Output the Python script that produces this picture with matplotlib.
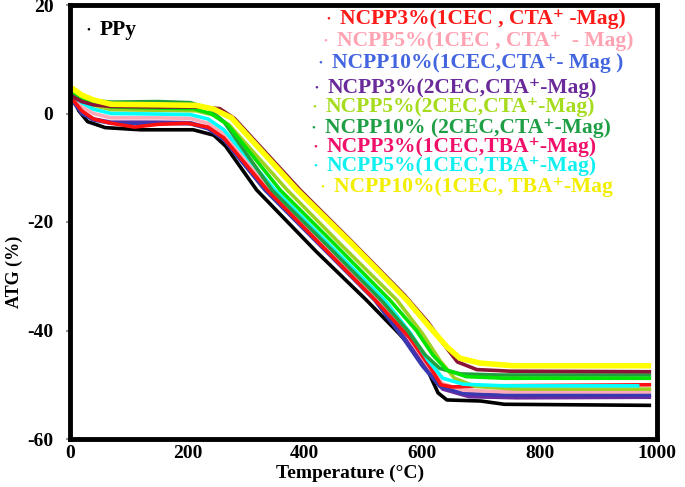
import matplotlib
matplotlib.use("Agg")
import matplotlib.pyplot as plt

plt.rcParams["axes.unicode_minus"] = False

# temperatures (°C) and mass change (%)
t_ppy = [3, 15, 30, 60, 120, 210, 245, 265, 318, 420, 505, 560, 601, 627, 642, 700, 740, 990]
y_ppy = [3.4, 0.5, -1.5, -2.6, -3.0, -3.0, -4.0, -6.0, -14.1, -25.5, -34.4, -40.5, -45.4, -51.5, -52.8, -53.0, -53.6, -53.8]

t_3cta = [3, 20, 40, 70, 110, 150, 200, 235, 262, 336, 430, 520, 580, 615, 632, 650, 720, 990]
y_3cta = [2.8, 0.5, -1.0, -1.8, -2.5, -2.0, -1.8, -2.5, -4.5, -14.1, -24.5, -34.4, -41.5, -47.0, -50.0, -50.4, -50.2, -50.0]

t_5cta = [3, 20, 40, 70, 150, 205, 235, 262, 340, 435, 527, 575, 610, 635, 670, 740, 990]
y_5cta = [3.0, 1.2, 0.0, -0.8, -0.8, -0.9, -1.8, -3.8, -14.1, -24.3, -34.4, -41.0, -46.5, -49.8, -51.0, -51.3, -51.3]

t_10cta = [3, 20, 40, 70, 150, 205, 235, 262, 332, 425, 519, 565, 600, 630, 670, 740, 990]
y_10cta = [2.5, 0.0, -1.2, -1.8, -1.8, -1.9, -2.8, -4.8, -14.1, -24.2, -34.4, -41.0, -46.5, -50.3, -51.6, -51.9, -51.9]

t_3cta2 = [3, 20, 40, 70, 150, 205, 235, 262, 334, 428, 521, 570, 605, 635, 680, 760, 990]
y_3cta2 = [2.6, 0.3, -1.0, -1.6, -1.6, -1.7, -2.6, -4.6, -14.1, -24.2, -34.4, -41.2, -46.8, -50.8, -52.2, -52.4, -52.3]

t_5cta2 = [3, 20, 40, 70, 150, 215, 245, 272, 370, 460, 557, 600, 630, 655, 690, 760, 990]
y_5cta2 = [3.8, 2.5, 1.5, 0.7, 0.6, 0.5, -0.3, -2.2, -14.1, -24.0, -34.4, -40.5, -45.5, -48.8, -50.3, -50.8, -50.8]

t_10cta2 = [3, 20, 40, 70, 150, 205, 235, 262, 344, 440, 530, 575, 605, 630, 665, 730, 990]
y_10cta2 = [3.6, 2.9, 2.4, 2.1, 2.2, 2.0, 1.0, -1.5, -14.1, -24.5, -34.4, -40.0, -44.5, -47.0, -48.0, -48.2, -48.2]

t_extra = [3, 20, 40, 70, 150, 210, 240, 268, 358, 450, 545, 590, 618, 642, 675, 740, 990]
y_extra = [4.2, 3.0, 2.0, 1.2, 1.0, 0.9, 0.0, -2.0, -14.1, -24.0, -34.4, -40.0, -44.5, -47.3, -48.5, -48.8, -48.8]

t_3tba = [3, 20, 40, 70, 150, 220, 255, 280, 392, 480, 570, 610, 640, 660, 693, 750, 990]
y_3tba = [3.2, 2.2, 1.6, 1.3, 1.2, 1.2, 0.9, -0.9, -14.1, -23.6, -33.5, -38.5, -43.0, -45.8, -47.2, -47.5, -47.6]

t_5tba = [3, 20, 40, 70, 150, 205, 235, 262, 349, 440, 536, 580, 610, 635, 670, 740, 970]
y_5tba = [3.5, 2.0, 0.8, 0.0, -0.1, -0.2, -1.0, -3.0, -14.1, -24.0, -34.4, -40.5, -45.5, -48.8, -49.9, -50.2, -50.2]

t_10tba = [3, 20, 40, 70, 150, 215, 245, 275, 387, 480, 574, 613, 642, 664, 698, 755, 990]
y_10tba = [4.7, 3.4, 2.5, 1.7, 1.6, 1.5, 0.8, -0.8, -14.1, -24.0, -34.4, -39.4, -43.0, -45.1, -46.0, -46.5, -46.5]

labels = ["PPy",
          "NCPP3%(1CEC , CTA⁺ -Mag)",
          "NCPP5%(1CEC , CTA⁺  - Mag)",
          "NCPP10%(1CEC,CTA⁺- Mag )",
          "NCPP3%(2CEC,CTA⁺-Mag)",
          "NCPP5%(2CEC,CTA⁺-Mag)",
          "NCPP10% (2CEC,CTA⁺-Mag)",
          "NCPP3%(1CEC,TBA⁺-Mag)",
          "NCPP5%(1CEC,TBA⁺-Mag)",
          "NCPP10%(1CEC, TBA⁺-Mag"]
label_colors = ["black", "#ff1a1a", "#ffa3b3", "#4366e0", "#6a2a9a",
                "#a6dc1e", "#1f9f45", "#f0106a", "#10f0f0", "#f2ee00"]

# drawing order: bottom to top
curves = [
    (t_ppy, y_ppy, "black"),
    (t_3cta2, y_3cta2, "#6a2aa0"),
    (t_10cta, y_10cta, "#3838b0"),
    (t_5cta, y_5cta, "#ffa8b8"),
    (t_3cta, y_3cta, "#ff1010"),
    (t_5cta2, y_5cta2, "#9ed21e"),
    (t_5tba, y_5tba, "#00ffff"),
    (t_10cta2, y_10cta2, "#22a040"),
    (t_extra, y_extra, "#00e400"),
    (t_3tba, y_3tba, "#8a1436"),
    (t_10tba, y_10tba, "#ffff00"),
]

W, H = 685, 487
fig = plt.figure(figsize=(W / 100, H / 100), dpi=100)
ax = fig.add_axes([70 / W, 1 - 439 / H, 587 / W, 434 / H])

for t, y, c in curves:
    lw = 4 if c == "#ffff00" else 2.6
    ax.plot(t, y, color=c, lw=lw, solid_capstyle="butt")

ax.set_xlim(0, 1000)
ax.set_ylim(-60, 20)
ax.set_xticks([0, 200, 400, 600, 800, 1000])
ax.set_yticks([-60, -40, -20, 0, 20])

serif = ["Liberation Serif", "DejaVu Serif"]
for s in ax.spines.values():
    s.set_linewidth(3.5)
ax.tick_params(axis="x", length=0, pad=4)
ax.tick_params(axis="y", length=3, width=1.5, color="#999999", pad=9)
for lab in ax.get_xticklabels() + ax.get_yticklabels():
    lab.set_fontfamily(serif)
    lab.set_fontweight("bold")
    lab.set_fontsize(14)

fig.text(350 / W, 1 - 473 / H, "Temperature (°C)", ha="center", va="center",
         fontsize=14, fontweight="bold", family=serif)
fig.text(14 / W, 1 - 272 / H, "ATG (%)", ha="center", va="center", rotation=90,
         fontsize=13, fontweight="bold", family=serif)

# legend written as coloured text lines
leg_pos = [(100, 30), (340, 19), (337, 41), (332, 63), (328, 88), (326, 107),
           (325, 128), (327, 147), (327, 166), (334, 187)]
for (px, py), lab, c in zip(leg_pos, labels, label_colors):
    fig.text(px / W, 1 - py / H, lab, color=c, fontsize=15.5, fontweight="bold",
             family=serif, ha="left", va="center")
    fig.text((px - 12) / W, 1 - py / H, "•", color=c, fontsize=8,
             family=serif, ha="center", va="center")

fig.savefig("out.png", dpi=100)
